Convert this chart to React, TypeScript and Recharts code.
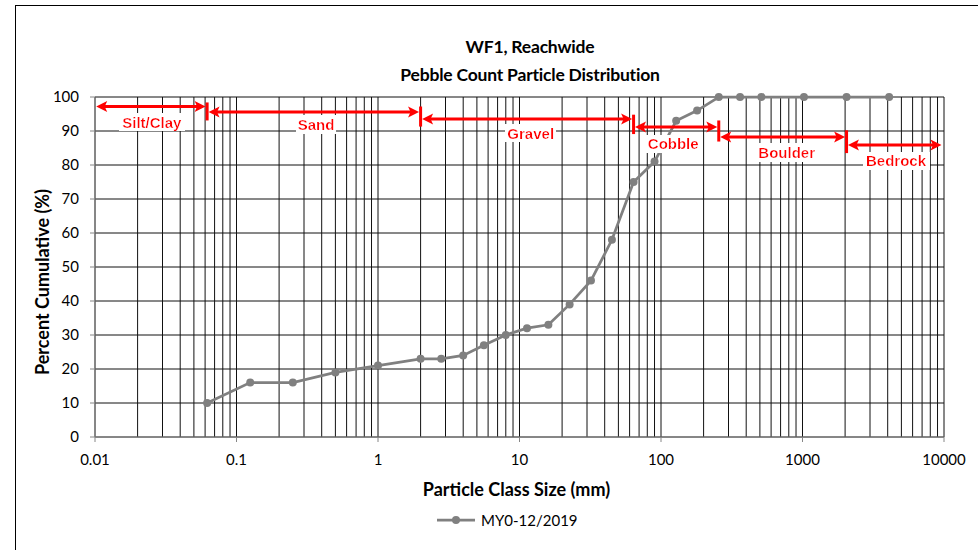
import React from 'react';
import {
  ComposedChart,
  Line,
  XAxis,
  YAxis,
  CartesianGrid,
  ReferenceLine,
  ReferenceDot,
  Label,
} from 'recharts';

// ---- data ----
const sizes = [0.062, 0.125, 0.25, 0.5, 1, 2, 2.8, 4, 5.6, 8, 11.3, 16, 22.6, 32, 45, 64, 90, 128, 180, 256, 362, 512, 1024, 2048, 4096];
const cumulative = [10, 16, 16, 19, 21, 23, 23, 24, 27, 30, 32, 33, 39, 46, 58, 75, 81, 93, 96, 100, 100, 100, 100, 100, 100];
const seriesName = 'MY0-12/2019';

const xGridValues = [
  0.01, 0.02, 0.03, 0.04, 0.05, 0.06, 0.07, 0.08, 0.09,
  0.1, 0.2, 0.3, 0.4, 0.5, 0.6, 0.7, 0.8, 0.9,
  1, 2, 3, 4, 5, 6, 7, 8, 9,
  10, 20, 30, 40, 50, 60, 70, 80, 90,
  100, 200, 300, 400, 500, 600, 700, 800, 900,
  1000, 2000, 3000, 4000, 5000, 6000, 7000, 8000, 9000,
  10000,
];
const xTickLabels = [0.01, 0.1, 1, 10, 100, 1000, 10000];
const yTicks = [0, 10, 20, 30, 40, 50, 60, 70, 80, 90, 100];

const classNames = ['Silt/Clay', 'Sand', 'Gravel', 'Cobble', 'Boulder', 'Bedrock'];
const classStart = [0.0102, 0.0635, 2.05, 65.5, 262, 2095];
const classEnd = [0.0605, 1.95, 62.5, 250, 2000, 9600];
const arrowLevel = [97.2, 95.6, 93.5, 91.2, 88.2, 85.9];
const labelX = [0.0252, 0.365, 12.0, 122, 773, 4580];
const labelY = [92.6, 92.0, 89.4, 86.2, 83.7, 81.2];
const boundaryX = [0.062, 2, 64, 256, 2048];
const boundaryTop = [98.4, 97.2, 94.8, 93.1, 90.2];
const boundaryBottom = [93.1, 91.3, 89.1, 86.9, 83.5];

const data = sizes.map((s, i) => ({ size: s, pct: cumulative[i] }));

const RED = '#ff0000';
const GRAY = '#808080';
const CAL = 'Lato, "Open Sans", sans-serif';

const arrowShape = (p: any) => {
  const { x1, y1, x2 } = p;
  const left = Math.min(x1, x2);
  const right = Math.max(x1, x2);
  const y = y1;
  const L = 11;
  const W = 5.5;
  return (
    <g>
      <line x1={left + 6} y1={y} x2={right - 6} y2={y} stroke={RED} strokeWidth={3} />
      <path d={`M${left},${y} L${left + L},${y - W} L${left + L - 2.5},${y} L${left + L},${y + W} Z`} fill={RED} />
      <path d={`M${right},${y} L${right - L},${y - W} L${right - L + 2.5},${y} L${right - L},${y + W} Z`} fill={RED} />
    </g>
  );
};

const tickShape = (p: any) => (
  <line x1={p.x1} y1={p.y1} x2={p.x2} y2={p.y2} stroke={RED} strokeWidth={3} />
);

const makeLabelShape = (text: string, idx: number) => (p: any) => (
  <g>
    <defs>
      <filter id={`wbg${idx}`} x="-0.04" y="-0.02" width="1.08" height="1.04">
        <feFlood floodColor="#ffffff" />
        <feComposite in="SourceGraphic" />
      </filter>
    </defs>
    <text
      x={p.cx}
      y={p.cy}
      textAnchor="middle"
      dominantBaseline="central"
      fill={RED}
      fontFamily='"Liberation Sans", Arial, sans-serif'
      fontWeight="bold"
      fontSize={15}
      filter={`url(#wbg${idx})`}
    >
      {text}
    </text>
  </g>
);

const XTick = (p: any) => {
  const { x, y, payload } = p;
  const v = payload.value;
  if (!xTickLabels.includes(v)) return null;
  return (
    <g>
      <line x1={x} y1={y} x2={x} y2={y + 5} stroke="#868686" />
      <text x={x} y={y + 28} textAnchor="middle" fill="#000" fontFamily={CAL} fontSize={15}>
        {String(v)}
      </text>
    </g>
  );
};

export default function App() {
  return (
    <div style={{ position: 'absolute', left: 0, top: 0, width: 978, height: 550, background: '#fff', overflow: 'hidden' }}>
      <div
        style={{
          position: 'absolute',
          left: 15,
          top: 5,
          width: 970,
          height: 560,
          borderTop: '1.5px solid #000',
          borderLeft: '1.5px solid #000',
          pointerEvents: 'none',
        }}
      />
      <div
        style={{
          position: 'absolute',
          left: 330,
          top: 33,
          width: 400,
          textAlign: 'center',
          fontFamily: CAL,
          fontWeight: 700,
          fontSize: 17.5,
          letterSpacing: '-0.2px',
          lineHeight: '28px',
          color: '#000',
        }}
      >
        <div>WF1, Reachwide</div>
        <div>Pebble Count Particle Distribution</div>
      </div>
      <div style={{ position: 'absolute', left: 0, top: 0 }}>
        <ComposedChart width={978} height={550} data={data} margin={{ top: 97, right: 34, bottom: 0, left: 0 }}>
          <CartesianGrid stroke="#111" strokeWidth={1} />
          <XAxis
            dataKey="size"
            type="number"
            scale="log"
            domain={[0.01, 10000]}
            ticks={xGridValues}
            interval={0}
            allowDataOverflow
            height={113}
            tickLine={false}
            tickSize={0}
            tickMargin={0}
            tick={<XTick />}
            axisLine={{ stroke: '#868686' }}
          >
            <Label
              content={(lp: any) => {
                const vb = lp.viewBox;
                return (
                  <text
                    x={vb.x + vb.width / 2 - 3}
                    y={vb.y + 59}
                    textAnchor="middle"
                    fontFamily={CAL}
                    fontWeight="bold"
                    fontSize={18}
                    fill="#000"
                  >
                    Particle Class Size (mm)
                  </text>
                );
              }}
            />
          </XAxis>
          <YAxis
            type="number"
            domain={[0, 100]}
            ticks={yTicks}
            interval={0}
            width={95}
            tickSize={5}
            tickMargin={11}
            tick={{ fill: '#000', fontFamily: CAL, fontSize: 15 }}
            tickLine={{ stroke: '#868686' }}
            axisLine={{ stroke: '#868686' }}
          >
            <Label
              content={(lp: any) => {
                const vb = lp.viewBox;
                const cx = 42;
                const cy = vb.y + vb.height / 2 + 15;
                return (
                  <text
                    x={cx}
                    y={cy}
                    transform={`rotate(-90 ${cx} ${cy})`}
                    textAnchor="middle"
                    dominantBaseline="central"
                    fontFamily={CAL}
                    fontWeight="bold"
                    fontSize={18}
                    fill="#000"
                  >
                    Percent Cumulative (%)
                  </text>
                );
              }}
            />
          </YAxis>
          <Line
            dataKey="pct"
            name={seriesName}
            stroke={GRAY}
            strokeWidth={2.75}
            dot={{ r: 4, fill: GRAY, stroke: GRAY, strokeWidth: 0 }}
            activeDot={false}
            isAnimationActive={false}
          />
          {classNames.map((n, i) => (
            <ReferenceLine
              key={`arr-${n}`}
              segment={[
                { x: classStart[i], y: arrowLevel[i] },
                { x: classEnd[i], y: arrowLevel[i] },
              ]}
              shape={arrowShape}
              ifOverflow="visible"
              zIndex={700}
            />
          ))}
          {boundaryX.map((bx, i) => (
            <ReferenceLine
              key={`bnd-${i}`}
              segment={[
                { x: bx, y: boundaryTop[i] },
                { x: bx, y: boundaryBottom[i] },
              ]}
              shape={tickShape}
              ifOverflow="visible"
              zIndex={700}
            />
          ))}
          {classNames.map((n, i) => (
            <ReferenceDot
              key={`lbl-${n}`}
              x={labelX[i]}
              y={labelY[i]}
              r={0}
              shape={makeLabelShape(n, i)}
              ifOverflow="visible"
              zIndex={800}
            />
          ))}
        </ComposedChart>
      </div>
      <div
        style={{
          position: 'absolute',
          left: 436,
          top: 511,
          display: 'flex',
          alignItems: 'center',
          fontFamily: CAL,
          fontSize: 15,
          color: '#000',
        }}
      >
        <svg width={42} height={12} style={{ marginRight: 3 }}>
          <line x1={1} y1={6} x2={39} y2={6} stroke={GRAY} strokeWidth={2.75} />
          <circle cx={20} cy={6} r={4} fill={GRAY} />
        </svg>
        <span>{seriesName}</span>
      </div>
    </div>
  );
}
